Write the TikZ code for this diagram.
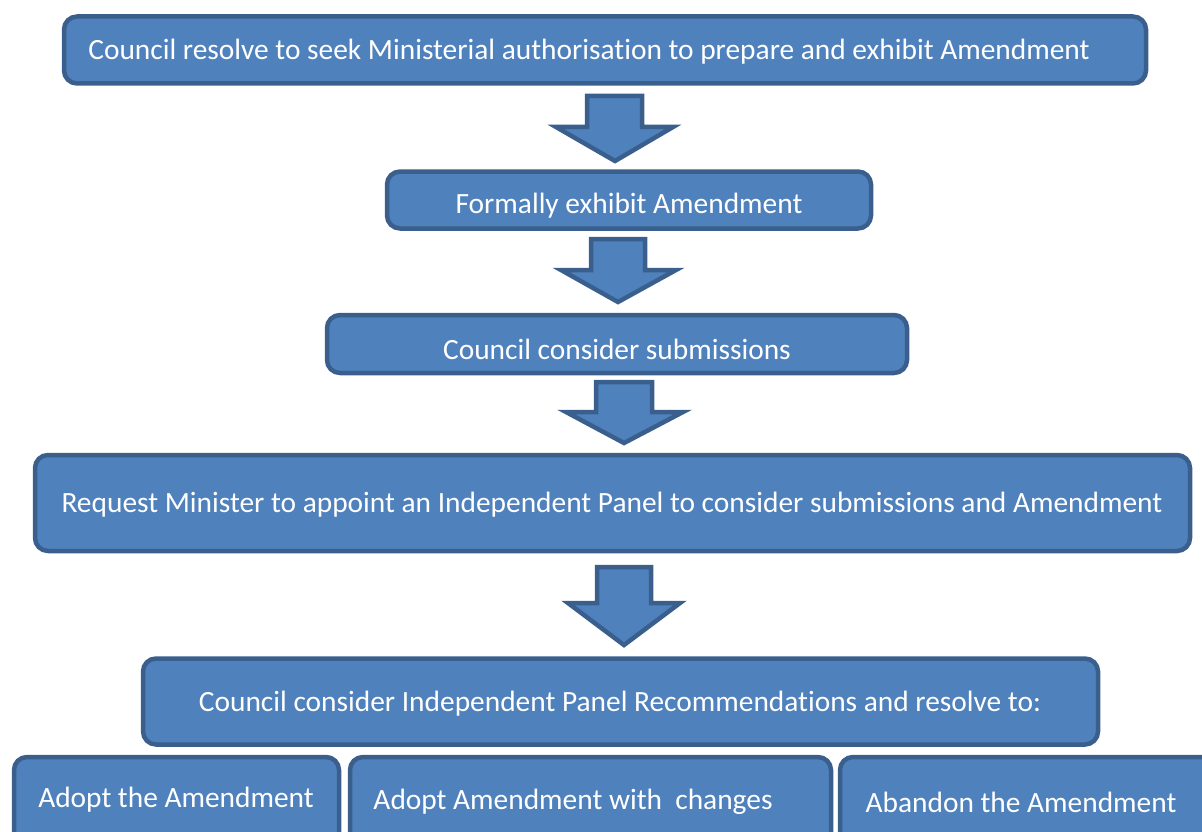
\documentclass[tikz,border=0pt]{standalone}
\usepackage{fontspec}
\setmainfont{Carlito}[Ligatures={NoCommon}]
\definecolor{boxfill}{HTML}{4F81BD}
\definecolor{boxline}{HTML}{3A5F8C}
\tikzset{
  stepbox/.style={draw=boxline, fill=boxfill, line width=4.5pt, rounded corners=13pt,
                  inner sep=0pt},
  steptext/.style={text=white, font=\fontsize{29.4}{35}\selectfont, inner sep=0pt},
  downarrow/.style={draw=boxline, fill=boxfill, line width=4.5pt, line join=miter}
}
% block arrow: shaft left, shaft right, shaft top, wing left, wing right, wing y, tip x, tip y
\newcommand{\blockarrow}[8]{%
  \draw[downarrow] (#1,#3) -- (#2,#3) -- (#2,#6) -- (#5,#6) -- (#7,#8) -- (#4,#6) -- (#1,#6) -- cycle;}
\begin{document}
\begin{tikzpicture}[x=1pt, y=-1pt]
\useasboundingbox (0,0) rectangle (1202,832);
\clip (0,0) rectangle (1202,832);

% process boxes
\node[stepbox, minimum width=1082pt, minimum height=67pt] (b1) at (605,50) {};
\node[steptext] (t1) at (589,52) {Council resolve to seek Ministerial authorisation to prepare and exhibit Amendment};

\node[stepbox, minimum width=484pt, minimum height=57pt] (b2) at (629,200) {};
\node[steptext] (t2) at (629,206) {Formally exhibit Amendment};

\node[stepbox, minimum width=580pt, minimum height=58pt] (b3) at (617,344) {};
\node[steptext] (t3) at (617,349) {Council consider submissions};

\node[stepbox, minimum width=1155pt, minimum height=96pt] (b4) at (612.5,503) {};
\node[steptext] (t4) at (612,505) {Request Minister to appoint an Independent Panel to consider submissions and Amendment};

\node[stepbox, minimum width=955pt, minimum height=86pt] (b5) at (620.5,701.5) {};
\node[steptext] (t5) at (620,704) {Council consider Independent Panel Recommendations and resolve to:};

% outcome boxes (run past the lower edge)
\node[stepbox, minimum width=325pt, minimum height=110pt] (b6) at (176.5,812) {};
\node[steptext] (t6) at (176,800) {Adopt the Amendment};

\node[stepbox, minimum width=481pt, minimum height=110pt] (b7) at (590.5,812) {};
\node[steptext] (t7) at (573,802) {Adopt Amendment with~ changes};

\node[stepbox, minimum width=380pt, minimum height=110pt] (b8) at (1030,812) {};
\node[steptext] (t8) at (1021,802) {Abandon the Amendment};

% down arrows between the steps
\blockarrow{587}{642}{96}{556}{673}{127}{615}{161}
\blockarrow{591}{645}{239}{561}{676}{270}{618}{302}
\blockarrow{596}{652}{382}{566}{683}{412}{624}{443}
\blockarrow{597}{651}{567}{568}{680}{603}{624}{645}
\end{tikzpicture}
\end{document}
